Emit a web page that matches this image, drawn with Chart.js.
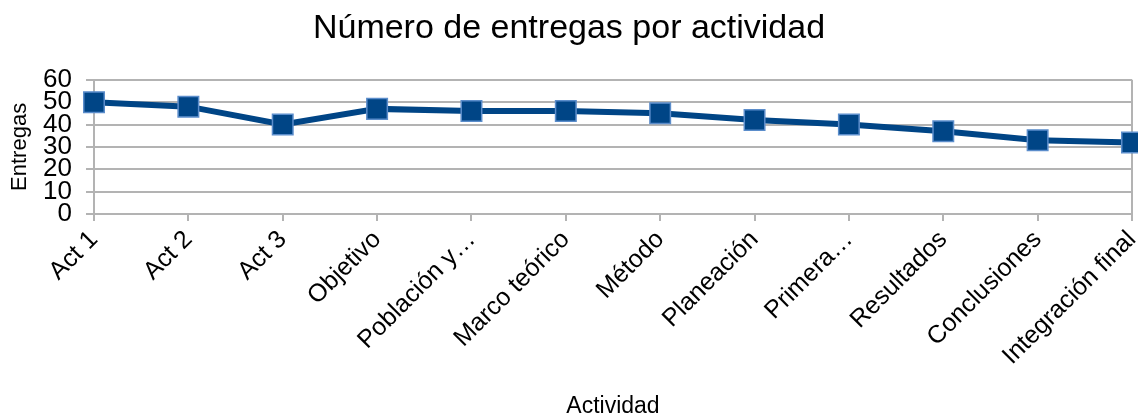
<!DOCTYPE html>
<html>
<head>
<meta charset="utf-8">
<script src="https://cdn.jsdelivr.net/npm/chart.js@4"></script>
<style>
  html, body { margin: 0; padding: 0; background: #fff; }
  #wrap { width: 1138px; height: 416px; }
</style>
</head>
<body>
<div id="wrap"><canvas id="entregasChart"></canvas></div>
<script>
// Datos
const actividades = ['Act 1', 'Act 2', 'Act 3', 'Objetivo', 'Población y…', 'Marco teórico',
    'Método', 'Planeación', 'Primera…', 'Resultados', 'Conclusiones', 'Integración final'];
const entregas = [50, 48, 40, 47, 46, 46, 45, 42, 40, 37, 33, 32];
const yTicks = [0, 10, 20, 30, 40, 50, 60];

document.addEventListener('DOMContentLoaded', function() {
    const gris = '#b3b3b3';
    const fuente = '"Liberation Sans", Arial, sans-serif';
    const ctx = document.getElementById('entregasChart').getContext('2d');

    new Chart(ctx, {
        type: 'line',
        data: {
            labels: actividades,
            datasets: [{
                label: 'Entregas',
                data: entregas,
                borderColor: '#004586',
                backgroundColor: '#004586',
                borderWidth: 6,
                tension: 0,
                pointStyle: 'rect',
                pointRadius: 14.5,
                pointHoverRadius: 14.5,
                pointBackgroundColor: '#004586',
                pointBorderColor: '#5b8dcb',
                pointBorderWidth: 1.5,
                clip: false
            }]
        },
        options: {
            responsive: true,
            maintainAspectRatio: false,
            animation: false,
            layout: { padding: 0, autoPadding: false },
            plugins: {
                legend: { display: false },
                tooltip: { enabled: false },
                title: {
                    display: true,
                    text: 'Número de entregas por actividad',
                    color: '#000',
                    font: { family: fuente, size: 34, weight: 'normal', lineHeight: 1.2 },
                    padding: { top: 8, bottom: 31 }
                }
            },
            scales: {
                x: {
                    offset: false,
                    grid: {
                        color: c => c.index === actividades.length - 1 ? gris : 'transparent',
                        tickColor: gris,
                        tickLength: 7,
                        lineWidth: 2
                    },
                    border: { color: gris, width: 2 },
                    ticks: {
                        color: '#000',
                        autoSkip: false,
                        maxRotation: 45,
                        minRotation: 45,
                        padding: 4,
                        font: { family: fuente, size: 25 }
                    },
                    title: {
                        display: true,
                        text: 'Actividad',
                        color: '#000',
                        font: { family: fuente, size: 23, lineHeight: 0.85 },
                        padding: { top: 0, bottom: 0 }
                    },
                    afterFit: s => { s.height = 202; s.paddingLeft = 0; s.paddingRight = 6; }
                },
                y: {
                    min: 0,
                    max: 60,
                    afterBuildTicks: s => { s.ticks = yTicks.map(v => ({ value: v })); },
                    grid: { color: gris, tickColor: gris, tickLength: 8, lineWidth: 2 },
                    border: { color: gris, width: 2 },
                    ticks: {
                        color: '#000',
                        autoSkip: false,
                        padding: 14,
                        font: { family: fuente, size: 26, lineHeight: 1 }
                    },
                    title: {
                        display: true,
                        text: 'Entregas',
                        color: '#000',
                        font: { family: fuente, size: 22, lineHeight: 1 },
                        padding: { top: 9, bottom: 0 }
                    },
                    afterFit: s => { s.width = 94; s.paddingTop = 0; s.paddingBottom = 0; }
                }
            }
        }
    });
});
</script>
</body>
</html>
